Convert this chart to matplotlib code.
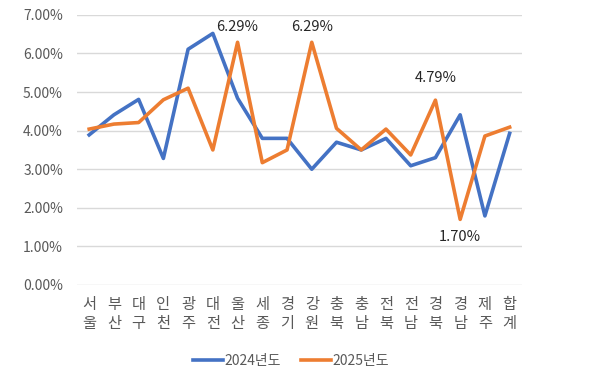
import matplotlib.pyplot as plt
from matplotlib.ticker import FuncFormatter

plt.rcParams["font.family"] = ["Noto Sans CJK KR", "DejaVu Sans"]

regions = ["서울", "부산", "대구", "인천", "광주", "대전", "울산", "세종", "경기",
           "강원", "충북", "충남", "전북", "전남", "경북", "경남", "제주", "합계"]
rate_2024 = [3.89, 4.41, 4.81, 3.28, 6.11, 6.52, 4.84, 3.80, 3.80,
             3.00, 3.70, 3.50, 3.80, 3.09, 3.30, 4.41, 1.79, 3.93]
rate_2025 = [4.04, 4.17, 4.21, 4.80, 5.10, 3.50, 6.29, 3.17, 3.50,
             6.29, 4.06, 3.50, 4.04, 3.37, 4.79, 1.70, 3.86, 4.09]
series_names = ["2024년도", "2025년도"]

# labels to show: (index, offset in points)
label_points = [(6, 11), (9, 11), (14, 16), (15, -13)]

fig = plt.figure(figsize=(6, 3.82), dpi=100)
ax = fig.add_axes([0.128, 0.254, 0.742, 0.707])

x = list(range(len(regions)))
ax.plot(x, rate_2024, color="#4472C4", linewidth=2.6, label=series_names[0])
ax.plot(x, rate_2025, color="#ED7D31", linewidth=2.6, label=series_names[1])

for i, dy in label_points:
    ax.annotate(f"{rate_2025[i]:.2f}%", (i, rate_2025[i]), xytext=(0, dy),
                textcoords="offset points", ha="center", va="center",
                fontsize=10.5, color="#262626", fontweight="medium")

ax.set_ylim(0, 7)
ax.set_xlim(-0.5, len(regions) - 0.5)
ax.set_yticks(range(0, 8))
ax.yaxis.set_major_formatter(FuncFormatter(lambda v, _: f"{v:.2f}%"))
ax.set_xticks(x)
ax.set_xticklabels(["\n".join(r) for r in regions], linespacing=1.15)
ax.tick_params(axis="both", length=0, colors="#595959")
ax.tick_params(axis="y", pad=10, labelsize=10)
ax.tick_params(axis="x", pad=8, labelsize=11)
ax.grid(axis="y", color="#D9D9D9", linewidth=1)
ax.set_axisbelow(True)
for s in ax.spines.values():
    s.set_visible(False)

fig.legend(loc="center", bbox_to_anchor=(0.485, 0.055), ncol=2, frameon=False,
           fontsize=10, handlelength=2.2, handletextpad=0.1, columnspacing=1.4,
           labelcolor="#595959")

plt.savefig("out.png", dpi=100)
